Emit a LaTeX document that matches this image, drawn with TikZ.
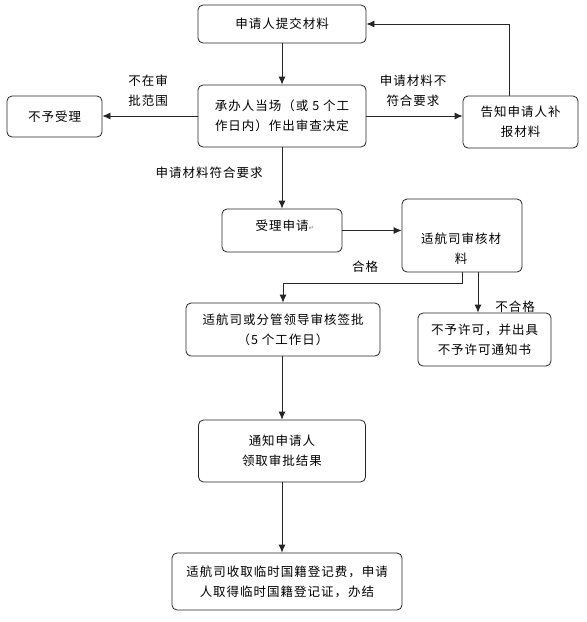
\documentclass[tikz,border=0pt]{standalone}
\usepackage{fontspec}
\newfontfamily\cjk[LetterSpace=8]{Noto Sans CJK SC}
\newfontfamily\symf{DejaVu Sans}
\usetikzlibrary{arrows.meta}
\begin{document}
\begin{tikzpicture}[x=1pt,y=-1pt,
  txt/.style={font=\cjk\fontsize{12.5}{20}\selectfont},
  box/.style={txt, draw=black!85, line width=0.8pt, rounded corners=5pt, inner sep=0pt, align=center, fill=white},
  lbl/.style={txt, inner sep=0pt, align=center},
  ln/.style={draw=black!85, line width=0.8pt},
  arr/.style={ln, -{Latex[length=8pt,width=7pt]}}]
\useasboundingbox[fill=white] (0,0) rectangle (587,622);

\node[box, minimum width=168pt, minimum height=38pt] (b1) at (282,24) {申请人提交材料};
\node[box, minimum width=168pt, minimum height=62pt] (b2) at (282,116) {承办人当场（或 5 个工\\作日内）作出审查决定};
\node[box, minimum width=95pt, minimum height=41pt] (b3) at (54.5,116.5) {不予受理};
\node[box, minimum width=115pt, minimum height=52pt] (b4) at (520.5,122) {告知申请人补\\报材料};
\node[box, minimum width=120pt, minimum height=43pt] (b5) at (282,230.5) {};
\node[lbl] (b5t) at (285,226) {受理申请{\symf\fontsize{7}{8}\selectfont\color{black!45}↵}};
\node[box, minimum width=120pt, minimum height=73pt] (b6) at (462,235.5) {};
\node[lbl] (b6t) at (461,249) {适航司审核材\\料};
\node[box, minimum width=194pt, minimum height=53pt] (b7) at (283,329.5) {适航司或分管领导审核签批\\（5 个工作日）};
\node[box, minimum width=133pt, minimum height=53pt] (b8) at (484.5,339.5) {不予许可，并出具\\不予许可通知书};
\node[box, minimum width=167pt, minimum height=62pt] (b9) at (282,451) {通知申请人\\领取审批结果};
\node[box, minimum width=230pt, minimum height=57pt] (b10) at (287,581.5) {适航司收取临时国籍登记费，申请\\人取得临时国籍登记证，办结};

\node[lbl] (l1) at (148,91) {不在审\\批范围};
\node[lbl] (l2) at (413,91) {申请材料不\\符合要求};
\node[lbl] (l3) at (209,173) {申请材料符合要求};
\node[lbl] (l4) at (365,267) {合格};
\node[lbl] (l5) at (515,307) {不合格};

\draw[arr] (b1.south) -- (b2.north);
\draw[arr] (b2.west) -- (b2.west -| b3.east);
\draw[arr] (b2.east) -- (b2.east -| b4.west);
\draw[arr] ([xshift=-11.5pt]b4.north) |- (b1.east);
\draw[arr] (b2.south) -- (b5.north);
\draw[arr] (b5.east) -- (b5.east -| b6.west);
\draw[arr] (b6.south) -- ++(0,11) -| (b7.north);
\draw[arr] ([xshift=16pt]b6.south) -- ([xshift=16pt]b6.south |- b8.north);
\draw[arr] (b7.south -| b9.north) -- (b9.north);
\draw[arr] (b9.south) -- (b9.south |- b10.north);
\end{tikzpicture}
\end{document}
